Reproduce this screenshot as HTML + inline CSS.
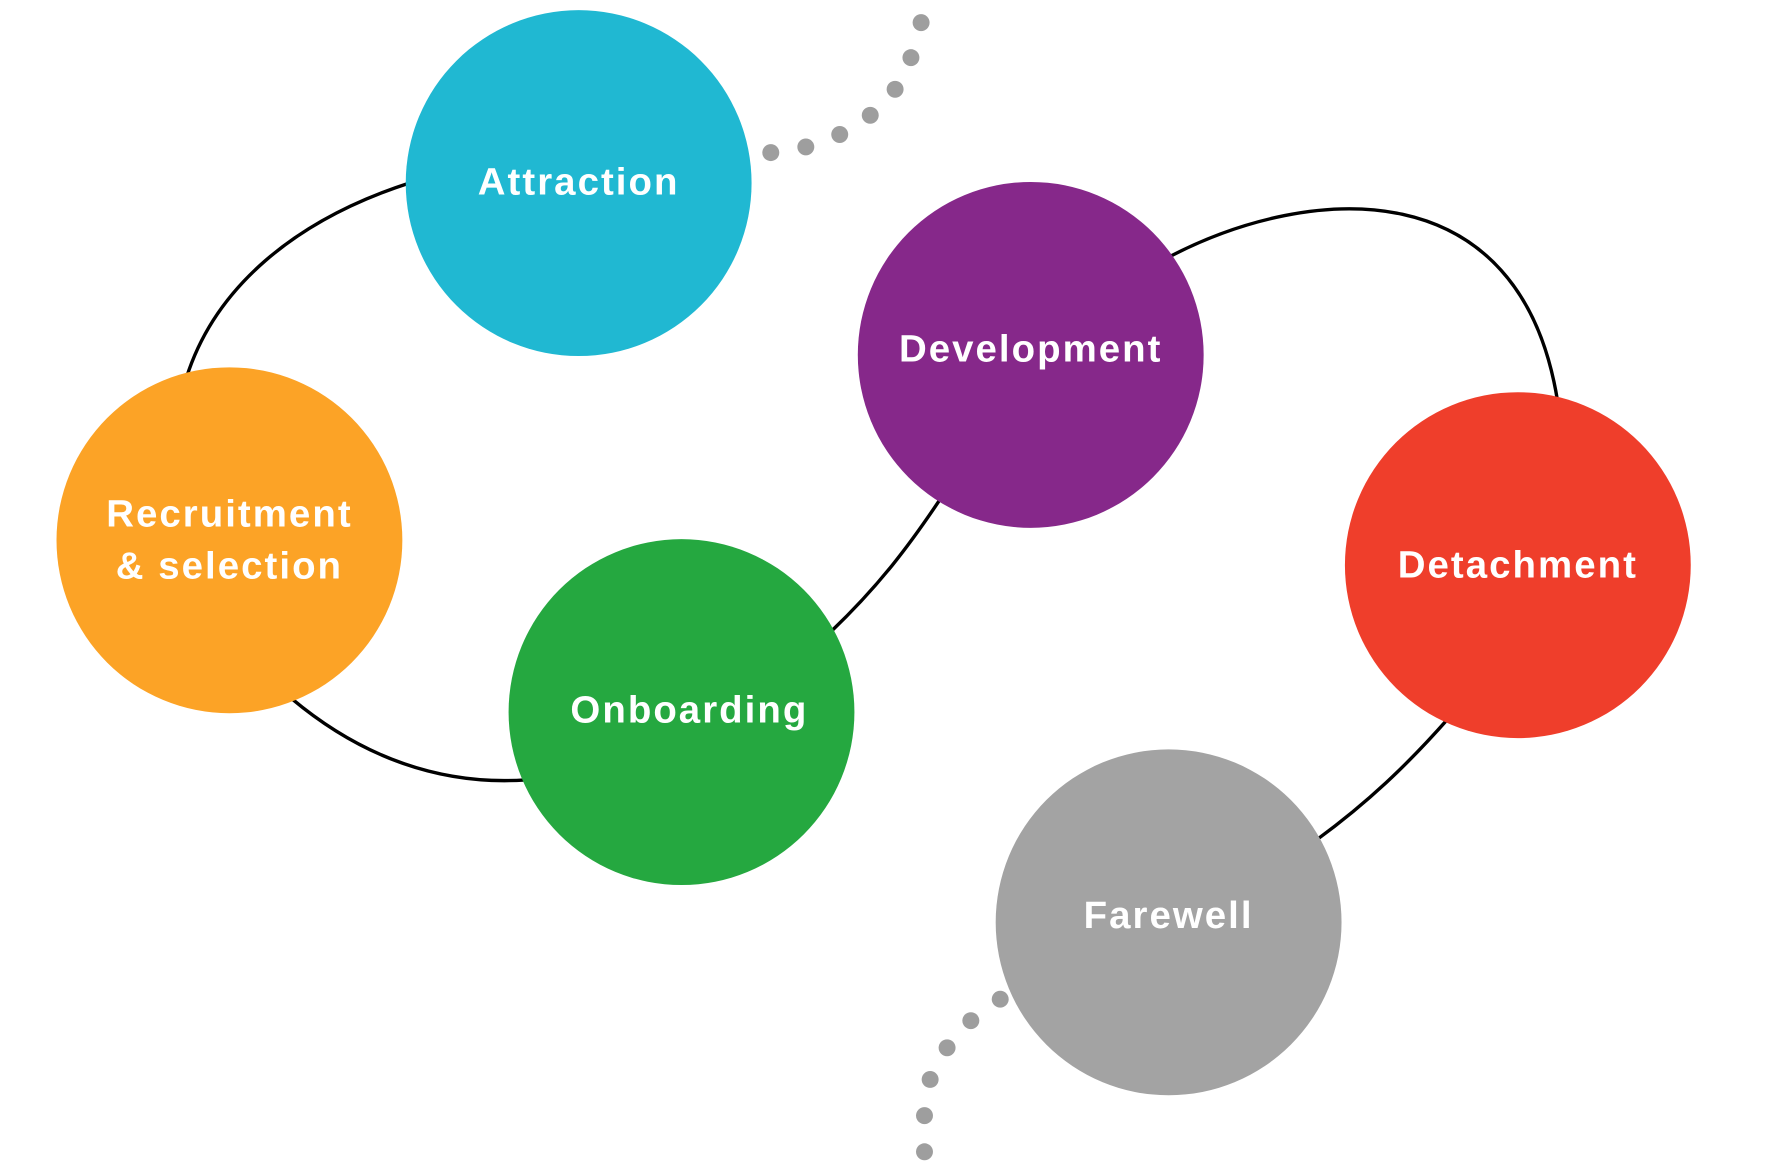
<!DOCTYPE html>
<html><head><meta charset="utf-8"><style>
html,body{margin:0;padding:0;background:#fff;}
svg{display:block;}
text{font-family:"Liberation Sans",sans-serif;font-weight:bold;fill:#fff;font-size:34px;letter-spacing:1.8px;text-anchor:middle;}
</style></head><body>
<svg width="1771" height="1171" viewBox="0 0 1567 1036" preserveAspectRatio="none" xmlns="http://www.w3.org/2000/svg">
<g fill="none" stroke="#000" stroke-width="3">
<path d="M362,162 C260,195 190,255 165,334"/>
<path d="M258,618 C320,670 390,695 465,690"/>
<path d="M735,559 C778,518 805,482 833,440"/>
<path d="M1035,227 C1160,162 1345,150 1378,354"/>
<path d="M1282,635 C1245,677 1210,710 1165,743"/>
</g>
<g fill="#9e9e9e">
<circle cx="682" cy="135" r="7.5"/><circle cx="713" cy="130" r="7.5"/><circle cx="743" cy="119" r="7.5"/><circle cx="770" cy="102" r="7.5"/><circle cx="792" cy="79" r="7.5"/><circle cx="806" cy="51" r="7.5"/><circle cx="815" cy="20" r="7.5"/>
<circle cx="885" cy="884" r="7.5"/><circle cx="859" cy="903" r="7.5"/><circle cx="838" cy="927" r="7.5"/><circle cx="823" cy="955" r="7.5"/><circle cx="818" cy="987" r="7.5"/><circle cx="818" cy="1019" r="7.5"/>
</g>
<circle cx="512" cy="162" r="153" fill="#20B8D2"/>
<circle cx="203" cy="478" r="153" fill="#FCA326"/>
<circle cx="603" cy="630" r="153" fill="#25A840"/>
<circle cx="912" cy="314" r="153" fill="#86288A"/>
<circle cx="1343" cy="500" r="153" fill="#EF3E2B"/>
<circle cx="1034" cy="816" r="153" fill="#A3A3A3"/>
<text x="512" y="172">Attraction</text>
<text x="203" y="466">Recruitment</text>
<text x="203" y="512">&amp; selection</text>
<text x="610" y="639">Onboarding</text>
<text x="912" y="320">Development</text>
<text x="1343" y="511">Detachment</text>
<text x="1034" y="821">Farewell</text>
</svg>
</body></html>
